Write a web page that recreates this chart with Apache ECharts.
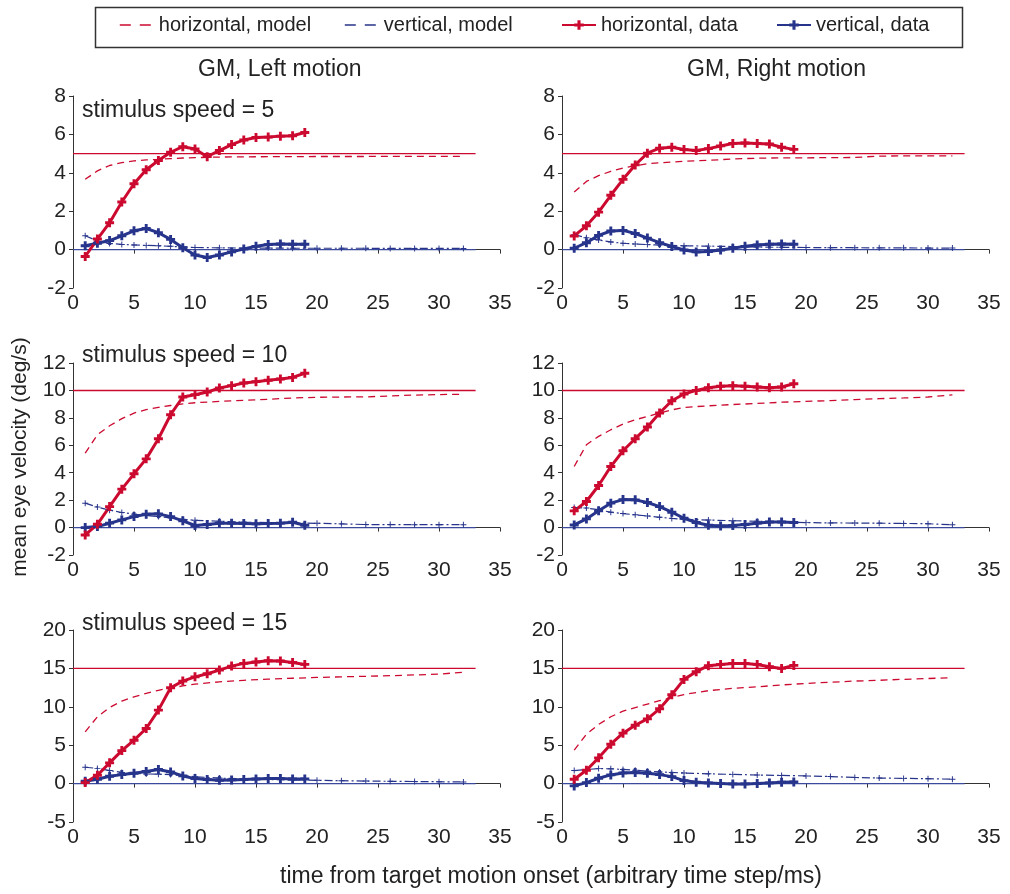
<!DOCTYPE html>
<html>
<head>
<meta charset="utf-8">
<script src="https://cdn.jsdelivr.net/npm/echarts@6/dist/echarts.min.js"></script>
<style>
  html, body { margin: 0; padding: 0; background: #fff; }
  #chart { width: 1010px; height: 894px; }
</style>
</head>
<body>
<div id="chart"></div>
<script>
// time steps
var dataT = [1, 2, 3, 4, 5, 6, 7, 8, 9, 10, 11, 12, 13, 14, 15, 16, 17, 18, 19];
var modelT = [1, 2, 3, 4, 5, 6, 7, 8, 9, 10, 12, 14, 16, 18, 20, 22, 24, 26, 28, 30, 32];
var refEndT = 33;
var speeds = [5, 10, 15];

// speed 5, left motion
var hData_L5 = [-0.36, 0.55, 1.4, 2.48, 3.43, 4.16, 4.64, 5.07, 5.36, 5.24, 4.84, 5.16, 5.47, 5.71, 5.84, 5.86, 5.91, 5.93, 6.1];
var vData_L5 = [0.2, 0.33, 0.47, 0.72, 0.98, 1.1, 0.88, 0.53, 0.1, -0.28, -0.41, -0.28, -0.12, 0.03, 0.17, 0.26, 0.29, 0.28, 0.28];
var hModel_L5 = [3.66, 4.1, 4.38, 4.53, 4.62, 4.67, 4.7, 4.74, 4.77, 4.79, 4.82, 4.83, 4.84, 4.84, 4.85, 4.85, 4.85, 4.86, 4.86, 4.86, 4.86];
var vModel_L5 = [0.72, 0.45, 0.32, 0.27, 0.24, 0.22, 0.2, 0.17, 0.14, 0.11, 0.09, 0.08, 0.08, 0.07, 0.07, 0.07, 0.07, 0.06, 0.06, 0.06, 0.06];

// speed 5, right motion
var hData_R5 = [0.71, 1.24, 1.95, 2.83, 3.66, 4.41, 5.02, 5.28, 5.33, 5.21, 5.16, 5.26, 5.4, 5.53, 5.55, 5.53, 5.5, 5.33, 5.22];
var vData_R5 = [0.07, 0.36, 0.74, 0.97, 1.0, 0.84, 0.6, 0.36, 0.16, -0.02, -0.12, -0.1, -0.02, 0.07, 0.17, 0.24, 0.28, 0.29, 0.28];
var hModel_R5 = [3.0, 3.55, 3.85, 4.08, 4.25, 4.37, 4.47, 4.52, 4.56, 4.6, 4.65, 4.72, 4.76, 4.78, 4.78, 4.79, 4.8, 4.87, 4.88, 4.88, 4.88];
var vModel_R5 = [0.78, 0.62, 0.5, 0.4, 0.33, 0.29, 0.26, 0.24, 0.22, 0.2, 0.18, 0.16, 0.13, 0.12, 0.11, 0.1, 0.1, 0.09, 0.09, 0.08, 0.08];

// speed 10, left motion
var hData_L10 = [-0.54, 0.24, 1.53, 2.8, 3.92, 5.01, 6.48, 8.23, 9.52, 9.69, 9.88, 10.18, 10.35, 10.54, 10.64, 10.74, 10.83, 10.95, 11.25];
var vData_L10 = [0.0, 0.07, 0.32, 0.56, 0.8, 0.97, 1.0, 0.8, 0.49, 0.15, 0.22, 0.32, 0.32, 0.29, 0.27, 0.29, 0.32, 0.39, 0.17];
var hModel_L10 = [5.43, 6.77, 7.42, 7.94, 8.35, 8.6, 8.76, 8.9, 9.02, 9.1, 9.2, 9.28, 9.35, 9.45, 9.5, 9.52, 9.53, 9.6, 9.66, 9.7, 9.72];
var vModel_L10 = [1.78, 1.5, 1.27, 1.1, 0.98, 0.88, 0.8, 0.7, 0.6, 0.53, 0.46, 0.4, 0.36, 0.33, 0.31, 0.27, 0.22, 0.22, 0.21, 0.21, 0.21];

// speed 10, right motion
var hData_R10 = [1.22, 1.9, 3.07, 4.45, 5.6, 6.48, 7.33, 8.35, 9.25, 9.74, 10.0, 10.2, 10.3, 10.35, 10.3, 10.25, 10.2, 10.25, 10.49];
var vData_R10 = [0.19, 0.63, 1.22, 1.78, 2.04, 2.02, 1.83, 1.53, 1.12, 0.68, 0.37, 0.17, 0.12, 0.15, 0.22, 0.32, 0.41, 0.41, 0.37];
var hModel_R10 = [4.45, 6.04, 6.65, 7.13, 7.55, 7.86, 8.1, 8.35, 8.58, 8.76, 8.88, 8.97, 9.05, 9.14, 9.2, 9.26, 9.33, 9.4, 9.45, 9.52, 9.68];
var vModel_R10 = [1.46, 1.42, 1.3, 1.12, 1.02, 0.93, 0.85, 0.75, 0.67, 0.6, 0.55, 0.5, 0.46, 0.4, 0.36, 0.34, 0.33, 0.32, 0.3, 0.28, 0.2];

// speed 15, left motion
var hData_L15 = [0.13, 1.09, 2.7, 4.3, 5.65, 7.17, 9.57, 12.48, 13.35, 13.9, 14.3, 14.78, 15.3, 15.65, 15.83, 16.0, 15.96, 15.78, 15.52];
var vData_L15 = [0.3, 0.57, 0.96, 1.17, 1.35, 1.57, 1.83, 1.52, 1.0, 0.65, 0.52, 0.43, 0.48, 0.52, 0.6, 0.65, 0.65, 0.6, 0.6];
var hModel_L15 = [6.74, 8.7, 9.9, 10.75, 11.3, 11.74, 12.15, 12.45, 12.72, 12.95, 13.25, 13.45, 13.6, 13.72, 13.82, 13.9, 13.97, 14.05, 14.15, 14.26, 14.5];
var vModel_L15 = [2.13, 1.98, 1.7, 1.45, 1.32, 1.26, 1.22, 1.17, 1.02, 0.9, 0.72, 0.6, 0.52, 0.47, 0.43, 0.38, 0.33, 0.3, 0.27, 0.24, 0.22];

// speed 15, right motion
var hData_R15 = [0.57, 1.74, 3.35, 5.13, 6.57, 7.6, 8.43, 9.74, 11.57, 13.57, 14.57, 15.35, 15.52, 15.65, 15.65, 15.52, 15.22, 15.0, 15.39];
var vData_R15 = [-0.3, 0.13, 0.7, 1.13, 1.39, 1.43, 1.35, 1.17, 0.91, 0.39, 0.17, 0.09, 0.0, -0.04, -0.04, 0.0, 0.09, 0.17, 0.22];
var hModel_R15 = [4.35, 6.43, 7.7, 8.7, 9.43, 9.9, 10.35, 10.8, 11.2, 11.6, 12.1, 12.4, 12.6, 12.85, 13.04, 13.2, 13.35, 13.45, 13.58, 13.68, 13.8];
var vModel_R15 = [1.7, 1.83, 1.95, 1.92, 1.84, 1.75, 1.62, 1.52, 1.45, 1.38, 1.27, 1.2, 1.12, 1.06, 1.0, 0.92, 0.8, 0.72, 0.68, 0.64, 0.57];

var yMins = [-2, -2, -5];
var yMaxs = [8, 12, 20];
var yIntervals = [2, 2, 5];

var legendNames = ['horizontal, model', 'vertical, model', 'horizontal, data', 'vertical, data'];

var RED = '#cc0a30';
var BLUE = '#27348b';
var FONT = 'Liberation Sans';
var PLUS = 'path://M3.4,0H6.6V3.4H10V6.6H6.6V10H3.4V6.6H0V3.4H3.4Z';
var PLUS_THIN = 'path://M4.2,0H5.8V4.2H10V5.8H5.8V10H4.2V5.8H0V4.2H4.2Z';

var panels = [
    {row: 0, col: 0, h: hData_L5, v: vData_L5, hm: hModel_L5, vm: vModel_L5},
    {row: 0, col: 1, h: hData_R5, v: vData_R5, hm: hModel_R5, vm: vModel_R5},
    {row: 1, col: 0, h: hData_L10, v: vData_L10, hm: hModel_L10, vm: vModel_L10},
    {row: 1, col: 1, h: hData_R10, v: vData_R10, hm: hModel_R10, vm: vModel_R10},
    {row: 2, col: 0, h: hData_L15, v: vData_L15, hm: hModel_L15, vm: vModel_L15},
    {row: 2, col: 1, h: hData_R15, v: vData_R15, hm: hModel_R15, vm: vModel_R15}
];

function pairs(xs, ys) {
    var out = [];
    for (var i = 0; i < ys.length; i++) out.push([xs[i], ys[i]]);
    return out;
}

var gridLefts = [73, 562];
var gridTops = [96, 363, 630];

var grids = [], xAxes = [], yAxes = [], series = [];
var axisText = {color: '#222', fontSize: 21, fontFamily: FONT};

panels.forEach(function (p, i) {
    grids.push({left: gridLefts[p.col], top: gridTops[p.row], width: 427, height: 192});
    xAxes.push({
        gridIndex: i, type: 'value', min: 0, max: 35, interval: 5,
        axisLine: {lineStyle: {color: '#333', width: 1}},
        axisTick: {inside: false, length: 4, lineStyle: {color: '#333'}},
        axisLabel: Object.assign({margin: 5}, axisText),
        splitLine: {show: false}
    });
    yAxes.push({
        gridIndex: i, type: 'value', min: yMins[p.row], max: yMaxs[p.row], interval: yIntervals[p.row],
        axisLine: {show: true, lineStyle: {color: '#333', width: 1}},
        axisTick: {show: true, inside: false, length: 4, lineStyle: {color: '#333'}},
        axisLabel: Object.assign({margin: 7}, axisText),
        splitLine: {show: false}
    });
    var sp = speeds[p.row];
    series.push({
        name: 'target', type: 'line', xAxisIndex: i, yAxisIndex: i, symbol: 'none', silent: true,
        data: [[0, sp], [refEndT, sp]], lineStyle: {color: RED, width: 1.4}
    });
    series.push({
        name: 'zero', type: 'line', xAxisIndex: i, yAxisIndex: i, symbol: 'none', silent: true,
        data: [[0, 0], [refEndT, 0]], lineStyle: {color: '#3b4a9c', width: 1.3}
    });
    series.push({
        name: legendNames[0], type: 'line', xAxisIndex: i, yAxisIndex: i, symbol: 'none',
        data: pairs(modelT, p.hm), lineStyle: {color: RED, width: 1.3, type: [7, 5]},
        itemStyle: {color: RED}
    });
    series.push({
        name: legendNames[1], type: 'line', xAxisIndex: i, yAxisIndex: i,
        symbol: PLUS_THIN, symbolSize: 6,
        data: pairs(modelT, p.vm), lineStyle: {color: BLUE, width: 1.2, type: [8, 3, 2, 3]},
        itemStyle: {color: BLUE}
    });
    series.push({
        name: legendNames[3], type: 'line', xAxisIndex: i, yAxisIndex: i,
        symbol: PLUS, symbolSize: 9,
        data: pairs(dataT, p.v), lineStyle: {color: BLUE, width: 3}, itemStyle: {color: BLUE}
    });
    series.push({
        name: legendNames[2], type: 'line', xAxisIndex: i, yAxisIndex: i,
        symbol: PLUS, symbolSize: 9,
        data: pairs(dataT, p.h), lineStyle: {color: RED, width: 3}, itemStyle: {color: RED}
    });
});

var titleStyle = {fontSize: 23, fontWeight: 'normal', color: '#222', fontFamily: FONT};
var titles = [
    {text: 'GM, Left motion', left: 198, top: 58, padding: 0, textStyle: titleStyle},
    {text: 'GM, Right motion', left: 687, top: 58, padding: 0, textStyle: titleStyle},
    {text: 'stimulus speed = ' + speeds[0], left: 82, top: 99, padding: 0, textStyle: titleStyle},
    {text: 'stimulus speed = ' + speeds[1], left: 82, top: 344, padding: 0, textStyle: titleStyle},
    {text: 'stimulus speed = ' + speeds[2], left: 82, top: 612, padding: 0, textStyle: titleStyle}
];

// one legend per entry so each can sit where the reference puts it
var legendLefts = [119, 344, 561, 776];
var legends = legendNames.map(function (name, k) {
    var item = {name: name};
    if (k < 2) {
        item.itemStyle = {opacity: 0};
        item.lineStyle = {type: [11, 9], width: 1.6};
    }
    return {
        left: legendLefts[k], top: 15, padding: 0, itemWidth: 34, itemHeight: 12,
        textStyle: {fontSize: 20, color: '#222', fontFamily: FONT},
        data: [item]
    };
});

var chart = echarts.init(document.getElementById('chart'), null, {renderer: 'canvas'});
chart.setOption({
    animation: false,
    backgroundColor: '#fff',
    title: titles,
    legend: legends,
    graphic: [
        {type: 'rect', left: 93, top: 5, shape: {width: 867, height: 40},
         style: {fill: 'none', stroke: '#333', lineWidth: 1.5}, silent: true},
        {type: 'text', x: 20, y: 457, rotation: Math.PI / 2,
         style: {text: 'mean eye velocity (deg/s)', fontSize: 21, fontFamily: FONT, fill: '#222',
                 align: 'center', verticalAlign: 'middle'}},
        {type: 'text', x: 551, y: 877,
         style: {text: 'time from target motion onset (arbitrary time step/ms)', fontSize: 23, fontFamily: FONT, fill: '#222',
                 align: 'center', verticalAlign: 'middle'}}
    ],
    grid: grids,
    xAxis: xAxes,
    yAxis: yAxes,
    series: series
});
</script>
</body>
</html>
